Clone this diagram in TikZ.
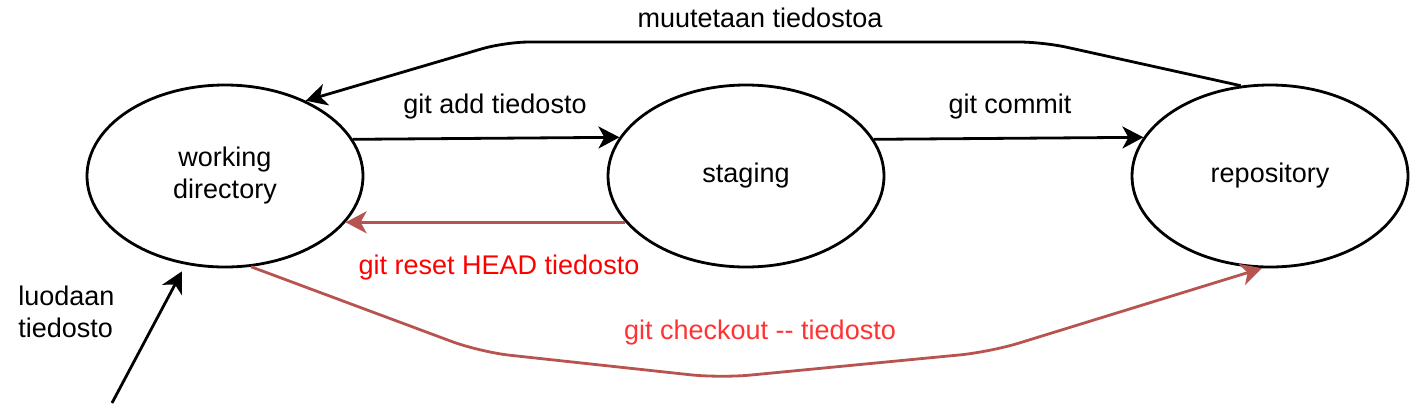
\documentclass[tikz,border=0pt]{standalone}
\usepackage{fontspec}
\setmainfont{Liberation Sans}
\usetikzlibrary{shapes.geometric,arrows.meta}
\definecolor{redline}{HTML}{B85450}
\definecolor{redtext}{HTML}{FF0000}
\definecolor{redtextb}{HTML}{FF3333}
\begin{document}
\begin{tikzpicture}[x=0.5pt,y=-0.5pt,
  every node/.style={font=\fontsize{13.5pt}{16pt}\selectfont},
  state/.style={draw=black,line width=1.4pt,ellipse,minimum width=138pt,minimum height=91pt,inner sep=0pt,align=center},
  arr/.style={line width=1.4pt,-{Stealth[length=10.5pt,width=11pt,inset=3pt]}},
  blackarr/.style={arr,draw=black},
  redarr/.style={arr,draw=redline,color=redline},
  lbl/.style={inner sep=0pt}]
\useasboundingbox (0,0) rectangle (1424,418);
\node[state] (wd) at (225,176) {working\\directory};
\node[state] (st) at (746,176) {staging};
\node[state] (repo) at (1270,176) {repository};

\draw[blackarr] (wd.16.9) -- (st.163.1);
\node[lbl] (addl) at (495,107) {git add tiedosto};
\draw[blackarr] (st.16.9) -- (repo.163);
\node[lbl] (commitl) at (1010,107) {git commit};

\draw[redarr] (st.201.7) -- (wd.-21.7);
\node[lbl,text=redtext] (resetl) at (499,268) {git reset HEAD tiedosto};

\coordinate (m1) at (1043,42);
\coordinate (m2) at (505,42);
\draw[blackarr,rounded corners=12pt] (repo.108.8) -- (m1) -- (m2) -- (wd.43.5);
\node[lbl] (modl) at (760,18) {muutetaan tiedostoa};

\coordinate (c1) at (480,352);
\coordinate (c2) at (720,378);
\coordinate (c3) at (990,352);
\draw[redarr,rounded corners=15pt] (wd.-74.4) -- (c1) -- (c2) -- (c3) -- (repo.-95);
\node[lbl,text=redtextb] (checkl) at (760,333) {git checkout -{}- tiedosto};

\coordinate (src) at (112,403);
\draw[blackarr,shorten >=3.8pt] (src) -- (wd.-114.1);
\node[lbl,align=left,anchor=west] (newl) at (18,312) {luodaan\\tiedosto};
\end{tikzpicture}
\end{document}
